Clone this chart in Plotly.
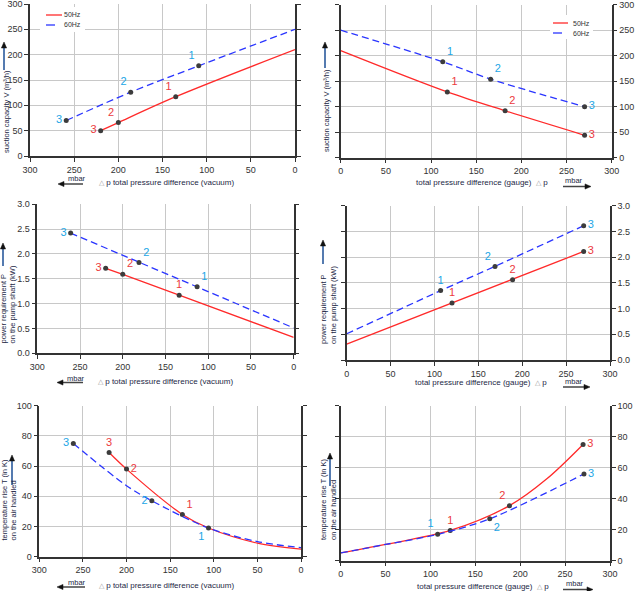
import plotly.graph_objects as go

W, H = 638, 591
FONT = "Arial, Liberation Sans, sans-serif"

# ---------------- data ----------------
labels_vac = ["3", "2", "1"]
labels_gau = ["1", "2", "3"]

# Panel 1: suction capacity vs vacuum
p1_50_line_x = [220, 200, 135, 0]
p1_50_line_y = [50, 66, 117, 210]
p1_50_pts_x = [220, 200, 135]
p1_50_pts_y = [50, 66, 117]
p1_60_line_x = [259, 186, 109, 0]
p1_60_line_y = [70, 126, 178, 250]
p1_60_pts_x = [259, 186, 109]
p1_60_pts_y = [70, 126, 178]

# Panel 2: suction capacity vs gauge pressure
p2_50_line_x = [0, 118, 182, 270]
p2_50_line_y = [210, 129, 92, 44]
p2_50_pts_x = [118, 182, 270]
p2_50_pts_y = [129, 92, 44]
p2_60_line_x = [0, 113, 166, 270]
p2_60_line_y = [250, 188, 154, 100]
p2_60_pts_x = [113, 166, 270]
p2_60_pts_y = [188, 154, 100]

# Panel 3: power requirement vs vacuum
p3_50_line_x = [220, 200, 134, 0]
p3_50_line_y = [1.71, 1.59, 1.17, 0.32]
p3_50_pts_x = [220, 200, 134]
p3_50_pts_y = [1.71, 1.59, 1.17]
p3_60_line_x = [261, 181, 113, 0]
p3_60_line_y = [2.42, 1.83, 1.34, 0.51]
p3_60_pts_x = [261, 181, 113]
p3_60_pts_y = [2.42, 1.83, 1.34]

# Panel 4: power requirement vs gauge pressure
p4_50_line_x = [0, 120, 189, 270]
p4_50_line_y = [0.31, 1.11, 1.56, 2.11]
p4_50_pts_x = [120, 189, 270]
p4_50_pts_y = [1.11, 1.56, 2.11]
p4_60_line_x = [0, 107, 169, 270]
p4_60_line_y = [0.51, 1.35, 1.82, 2.61]
p4_60_pts_x = [107, 169, 270]
p4_60_pts_y = [1.35, 1.82, 2.61]

# Panel 5: temperature rise vs vacuum
p5_50_line_x = [220, 200, 136, 106, 50, 0]
p5_50_line_y = [69, 58, 28, 19, 9, 5]
p5_50_pts_x = [220, 200, 136]
p5_50_pts_y = [69, 58, 28]
p5_60_line_x = [261, 200, 171, 106, 50, 0]
p5_60_line_y = [75, 47, 37, 19, 10, 6]
p5_60_pts_x = [261, 171, 106]
p5_60_pts_y = [75, 37, 19]

# Panel 6: temperature rise vs gauge pressure
p6_50_line_x = [0, 50, 122, 188, 230, 270]
p6_50_line_y = [5, 10.5, 19.5, 35.5, 53, 75]
p6_50_pts_x = [122, 188, 270]
p6_50_pts_y = [19.5, 35.5, 75]
p6_60_line_x = [0, 50, 108, 166, 271]
p6_60_line_y = [5, 10.5, 17, 27, 56]
p6_60_pts_x = [108, 166, 271]
p6_60_pts_y = [17, 27, 56]

series_names = ["50Hz", "60Hz"]

# ---------------- styles ----------------
RED = "#ff2a2a"
BLUE = "#2a35ff"
RED_LBL = "#ec3a40"
BLUE_LBL = "#22a6e6"
DOT = "#3c3c3c"
GRID = "#c8c8c8"
AXC = "#333333"
TXT = "#1c1f45"


def px(x):
    return x / W


def py(y):
    return 1 - y / H


domains = {
    1: ((30, 295), (4, 156)),
    2: ((340.7, 611.7), (4.7, 157.7)),
    3: ((37.3, 293.7), (204.3, 353.3)),
    4: ((346.7, 610), (205.7, 360)),
    5: ((39.3, 301), (405.7, 556.7)),
    6: ((340.7, 610), (405.7, 560.7)),
}

fig = go.Figure()


def axname(i):
    return ("x", "y") if i == 1 else (f"x{i}", f"y{i}")


def add_series(i, lx, ly, mx, my, labels, positions, color, lcolor, dash, shape):
    xa, ya = axname(i)
    fig.add_trace(go.Scatter(
        x=lx, y=ly, mode="lines", xaxis=xa, yaxis=ya, showlegend=False,
        hoverinfo="skip",
        line=dict(color=color, width=1.3, dash=dash, shape=shape, smoothing=0.9),
    ))
    fig.add_trace(go.Scatter(
        x=mx, y=my, mode="markers+text", xaxis=xa, yaxis=ya, showlegend=False,
        marker=dict(size=5, color=DOT),
        text=labels, textposition=positions,
        textfont=dict(size=11, color=lcolor, family=FONT),
    ))


DASH = "7px,4px"

add_series(1, p1_50_line_x, p1_50_line_y, p1_50_pts_x, p1_50_pts_y, labels_vac,
           ["middle left", "top left", "top left"], RED, RED_LBL, "solid", "spline")
add_series(1, p1_60_line_x, p1_60_line_y, p1_60_pts_x, p1_60_pts_y, labels_vac,
           ["middle left", "top left", "top left"], BLUE, BLUE_LBL, DASH, "spline")

add_series(2, p2_50_line_x, p2_50_line_y, p2_50_pts_x, p2_50_pts_y, labels_gau,
           ["top right", "top right", "middle right"], RED, RED_LBL, "solid", "spline")
add_series(2, p2_60_line_x, p2_60_line_y, p2_60_pts_x, p2_60_pts_y, labels_gau,
           ["top right", "top right", "middle right"], BLUE, BLUE_LBL, DASH, "spline")

add_series(3, p3_50_line_x, p3_50_line_y, p3_50_pts_x, p3_50_pts_y, labels_vac,
           ["middle left", "top right", "top center"], RED, RED_LBL, "solid", "linear")
add_series(3, p3_60_line_x, p3_60_line_y, p3_60_pts_x, p3_60_pts_y, labels_vac,
           ["middle left", "top right", "top right"], BLUE, BLUE_LBL, DASH, "linear")

add_series(4, p4_50_line_x, p4_50_line_y, p4_50_pts_x, p4_50_pts_y, labels_gau,
           ["top center", "top center", "middle right"], RED, RED_LBL, "solid", "linear")
add_series(4, p4_60_line_x, p4_60_line_y, p4_60_pts_x, p4_60_pts_y, labels_gau,
           ["top center", "top left", "middle right"], BLUE, BLUE_LBL, DASH, "linear")

add_series(5, p5_50_line_x, p5_50_line_y, p5_50_pts_x, p5_50_pts_y, labels_vac,
           ["top center", "middle right", "top right"], RED, RED_LBL, "solid", "spline")
add_series(5, p5_60_line_x, p5_60_line_y, p5_60_pts_x, p5_60_pts_y, labels_vac,
           ["middle left", "middle left", "bottom left"], BLUE, BLUE_LBL, DASH, "spline")

add_series(6, p6_50_line_x, p6_50_line_y, p6_50_pts_x, p6_50_pts_y, labels_gau,
           ["top center", "top left", "middle right"], RED, RED_LBL, "solid", "spline")
add_series(6, p6_60_line_x, p6_60_line_y, p6_60_pts_x, p6_60_pts_y, labels_gau,
           ["top left", "bottom right", "middle right"], BLUE, BLUE_LBL, DASH, "spline")

# ---------------- axes ----------------
yranges = {1: (0, 300, 50, None), 2: (0, 300, 50, None),
           3: (0, 3, 0.5, ".1f"), 4: (0, 3, 0.5, ".1f"),
           5: (0, 100, 20, None), 6: (0, 100, 20, None)}

layout = {}
for i in range(1, 7):
    (x0, x1), (y0, y1) = domains[i]
    left = i % 2 == 1
    xkey = "xaxis" if i == 1 else f"xaxis{i}"
    ykey = "yaxis" if i == 1 else f"yaxis{i}"
    xa, ya = axname(i)
    layout[xkey] = dict(
        domain=[px(x0), px(x1)], anchor=ya, automargin=False,
        range=[300, 0] if left else [0, 300], dtick=50, tick0=0,
        showgrid=True, gridcolor=GRID, gridwidth=1.2,
        showline=True, linecolor=AXC, linewidth=1.5, mirror=False,
        ticks="outside", ticklen=4, tickcolor=AXC, tickwidth=1,
        tickfont=dict(size=9, color=AXC, family=FONT),
        ticklabeloverflow="allow",
        zeroline=False, fixedrange=True,
    )
    r0, r1, dt, fmt = yranges[i]
    yd = dict(
        domain=[py(y1), py(y0)], anchor=xa, automargin=False,
        range=[r0, r1], dtick=dt, tick0=0,
        side="left" if left else "right",
        showgrid=True, gridcolor=GRID, gridwidth=1.2,
        showline=True, linecolor=AXC, linewidth=1.5, mirror="ticks",
        ticks="outside", ticklen=4, tickcolor=AXC, tickwidth=1,
        tickfont=dict(size=9, color=AXC, family=FONT),
        ticklabeloverflow="allow",
        zeroline=False, fixedrange=True,
    )
    if fmt:
        yd["tickformat"] = fmt
    layout[ykey] = yd

fig.update_layout(**layout)

# ---------------- annotations / decorations ----------------
ann = []
shapes = []


def arrow(hx, hy, tx, ty, head_col, shaft_col, hl=6.0, hw=2.6):
    """Arrow from tail (tx,ty) to head (hx,hy), pixel coords."""
    dx, dy = hx - tx, hy - ty
    n = (dx * dx + dy * dy) ** 0.5
    ux, uy = dx / n, dy / n
    bx, by = hx - ux * hl, hy - uy * hl
    shapes.append(dict(type="line", xref="paper", yref="paper",
                       x0=px(tx), y0=py(ty), x1=px(bx), y1=py(by),
                       line=dict(color=shaft_col, width=1.5), layer="above"))
    p1 = (bx - uy * hw, by + ux * hw)
    p2 = (bx + uy * hw, by - ux * hw)
    path = "M {:.5f},{:.5f} L {:.5f},{:.5f} L {:.5f},{:.5f} Z".format(
        px(hx), py(hy), px(p1[0]), py(p1[1]), px(p2[0]), py(p2[1]))
    shapes.append(dict(type="path", xref="paper", yref="paper", path=path,
                       fillcolor=head_col, line=dict(color=head_col, width=0.5),
                       layer="above"))


TRI = "<span style='color:#9a9a9a;font-size:7px'>△</span>"

# x-axis titles
xt_vac = TRI + " p total pressure difference (vacuum)"
xt_gau = "total pressure difference (gauge)  " + TRI + " p"

x_titles = [
    # (text, x_left, y, mbar_x, mbar_y, arrow_head_x, arrow_tail_x, arrow_y)
    (xt_vac, 98, 183, 77, 178.5, 58, 83, 184),
    (xt_gau, 415, 183, 574, 180, 591, 563, 186.5),
    (xt_vac, 97, 381, 76, 378, 57, 83, 382.5),
    (xt_gau, 414, 382, 574, 381.5, 590, 563, 387),
    (xt_vac, 98, 585, 77, 582, 57, 85, 587),
    (xt_gau, 416, 586, 575, 583.5, 593, 563, 589.5),
]
for t, xl, yy, mx, my, hx, tx, ay in x_titles:
    ann.append(dict(text=t, x=px(xl), y=py(yy), xref="paper", yref="paper",
                    xanchor="left", yanchor="middle", showarrow=False, borderpad=0,
                    font=dict(size=8, color=TXT, family=FONT)))
    ann.append(dict(text="mbar", x=px(mx), y=py(my), xref="paper", yref="paper",
                    xanchor="center", yanchor="middle", showarrow=False, borderpad=0,
                    font=dict(size=7.5, color=TXT, family=FONT)))
    arrow(hx, ay, tx, ay, "#111111", "#444444")

# y-axis titles
cap = "suction capacity V (m³/h)"
pwr = "power requirement P<br>on the pump shaft (kW)"
tmp = "temperature rise T (in K)<br>on the air handled"
y_titles = [
    (cap, 7, 112, 4, 42, 70),
    (cap, 326, 111, 325, 42, 68),
    (pwr, 7.5, 305, 3, 243, 266),
    (pwr, 328, 305, 323, 240, 264),
    (tmp, 8.5, 500, 12, 455, 485),
    (tmp, 328, 499, 330, 453, 486),
]
for t, cx, cy, axx, hy, ty in y_titles:
    ann.append(dict(text=t, x=px(cx), y=py(cy), xref="paper", yref="paper",
                    xanchor="center", yanchor="middle", showarrow=False, borderpad=0,
                    textangle=-90, align="left",
                    font=dict(size=7.5, color=TXT, family=FONT)))
    arrow(axx, hy, axx, ty, "#111111", "#1d4f96")

# legends (drawn compactly to match the reference)
legends = [
    ((40, 7, 85, 32), 46, 62, 63, (15, 25)),
    ((550, 15, 593, 39), 553, 568, 572, (23, 33)),
]
for (bx0, by0, bx1, by1), lx0, lx1, tx, rows in legends:
    shapes.append(dict(type="rect", xref="paper", yref="paper",
                       x0=px(bx0), x1=px(bx1), y0=py(by1), y1=py(by0),
                       fillcolor="white", line=dict(width=0), layer="above"))
    for name, yy, col, dsh in zip(series_names, rows, [RED, BLUE], ["solid", "dash"]):
        shapes.append(dict(type="line", xref="paper", yref="paper",
                           x0=px(lx0), x1=px(lx1), y0=py(yy), y1=py(yy),
                           line=dict(color=col, width=1.3, dash=dsh), layer="above"))
        ann.append(dict(text=name, x=px(tx), y=py(yy), xref="paper", yref="paper",
                        xanchor="left", yanchor="middle", showarrow=False, borderpad=0,
                        font=dict(size=7, color="#333333", family=FONT)))

fig.update_layout(
    template="none",
    width=W, height=H,
    margin=dict(l=0, r=0, t=0, b=0, autoexpand=False),
    paper_bgcolor="white", plot_bgcolor="white",
    showlegend=False,
    font=dict(family=FONT, color=AXC),
    annotations=ann, shapes=shapes,
)

fig.write_html("out.html")
